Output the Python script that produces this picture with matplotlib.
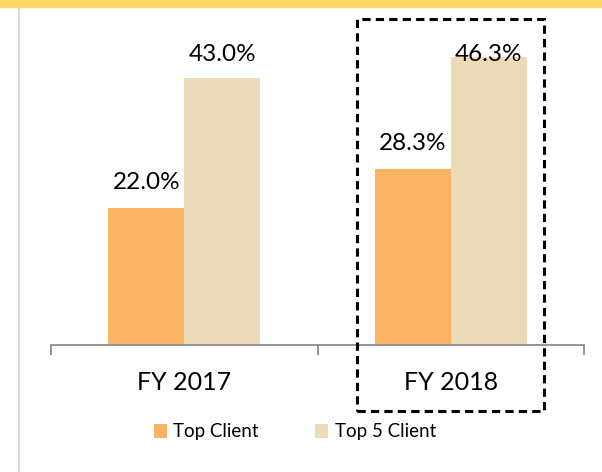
import matplotlib
matplotlib.use("Agg")
import matplotlib.pyplot as plt
from matplotlib.patches import Rectangle, Patch
from matplotlib.lines import Line2D
from matplotlib.transforms import blended_transform_factory
import numpy as np

plt.rcParams['font.family'] = ['Lato', 'DejaVu Sans']

# Data
categories = ["FY 2017", "FY 2018"]
series_names = ["Top Client", "Top 5 Client"]
top_client = [22.0, 28.3]
top5_client = [43.0, 46.3]
highlight = "FY 2018"

# Style
COLORS = ["#F8B462", "#EBDBB8"]
AXIS_GRAY = "#8C8C8C"
W, H = 602, 472
DPI = 100
YMAX = 48.4
BAR_W = 0.285

fig = plt.figure(figsize=(W / DPI, H / DPI), dpi=DPI)
ax = fig.add_axes([51 / W, (H - 345) / H, 533 / W, 301 / H])

x = np.arange(len(categories))
series = [top_client, top5_client]
offsets = [-BAR_W / 2, BAR_W / 2]

for vals, off, col in zip(series, offsets, COLORS):
    ax.bar(x + off, vals, width=BAR_W, color=col, zorder=2)

ax.set_xlim(-0.5, len(categories) - 0.5)
ax.set_ylim(0, YMAX)

# data labels, pushed down inside the plot area if they would overflow
fig.canvas.draw()
renderer = fig.canvas.get_renderer()
for vals, off in zip(series, offsets):
    for xi, v in zip(x, vals):
        t = ax.annotate(f"{v:.1f}%", xy=(xi + off, v), xytext=(0, 15),
                        textcoords="offset pixels", ha="center", va="bottom",
                        fontsize=17.5, color="black", zorder=3)
        bb = t.get_window_extent(renderer)
        top_px = ax.get_window_extent(renderer).y1
        if bb.y1 > top_px:
            t.remove()
            ax.annotate(f"{v:.1f}%", xy=(xi + off, 1), xycoords=("data", "axes fraction"),
                        ha="center", va="top", fontsize=17.5, color="black", zorder=3)

# axis styling
for s in ["top", "right", "left"]:
    ax.spines[s].set_visible(False)
ax.spines["bottom"].set_color(AXIS_GRAY)
ax.spines["bottom"].set_linewidth(1.3)
ax.set_yticks([])
ax.set_xticks(np.arange(-0.5, len(categories)), labels=[""] * (len(categories) + 1))
ax.tick_params(axis="x", length=7, width=1.3, color=AXIS_GRAY, direction="out")

for xi, cat in zip(x, categories):
    ax.annotate(cat, xy=(xi, 0), xycoords=("data", "axes fraction"),
                xytext=(0, -38), textcoords="offset pixels",
                ha="center", va="center", fontsize=18, color="black")

# legend
handles = [Patch(facecolor=c, edgecolor="none") for c in COLORS]
fig.legend(handles, series_names, loc="center", bbox_to_anchor=(0.49, (H - 432) / H),
           ncol=2, frameon=False, fontsize=13.5, handlelength=0.7, handleheight=0.7,
           handletextpad=0.35, columnspacing=3.0)

# dashed highlight box around FY 2018
hi = categories.index(highlight)
tr = blended_transform_factory(ax.transData, fig.transFigure)
box = Rectangle((hi - 0.35, (H - 411) / H), 0.70, (411 - 19) / H, transform=tr,
                fill=False, edgecolor="black", linewidth=2.2,
                linestyle=(0, (2.7, 1.7)), clip_on=False, zorder=5)
fig.add_artist(box)

# top yellow band and left gray rule
fig.add_artist(Rectangle((0, (H - 7) / H), 1, 7 / H, transform=fig.transFigure,
                         color="#FFD966", zorder=0))
fig.add_artist(Line2D([19 / W, 19 / W], [0, (H - 7) / H], transform=fig.transFigure,
                      color="#D9D9D9", linewidth=1.5))

fig.savefig("out.png", dpi=DPI)
